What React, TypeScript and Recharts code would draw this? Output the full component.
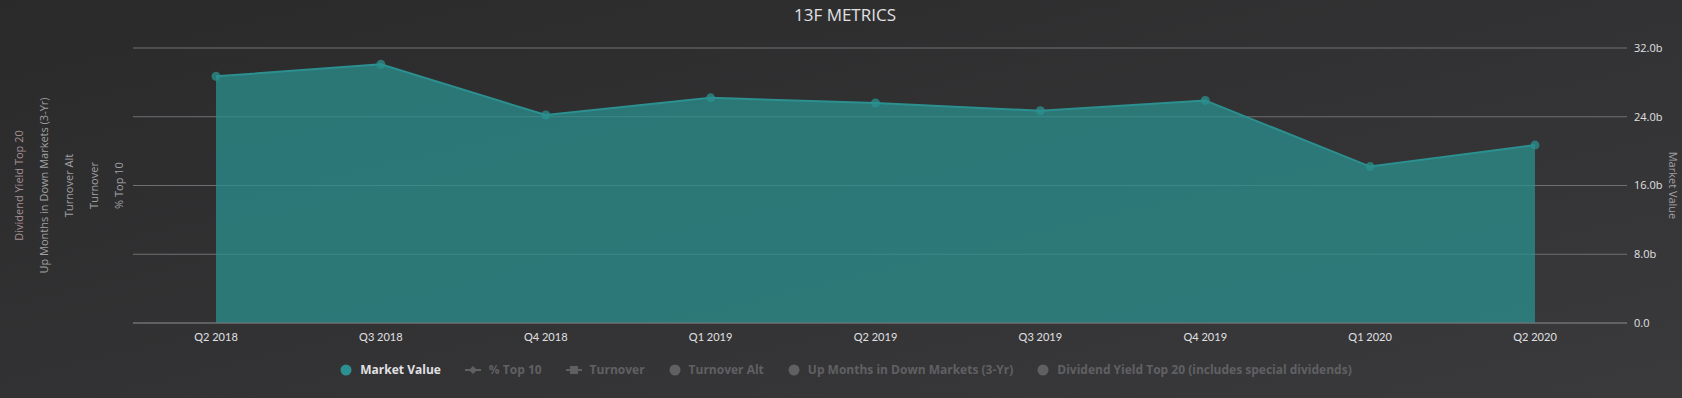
import React from "react";
import { Area, AreaChart, CartesianGrid, XAxis, YAxis } from "recharts";

const QUARTERS = ["Q2 2018", "Q3 2018", "Q4 2018", "Q1 2019", "Q2 2019", "Q3 2019", "Q4 2019", "Q1 2020", "Q2 2020"];
// market value, billions
const MARKET_VALUE = [28.7, 30.1, 24.2, 26.2, 25.6, 24.7, 25.9, 18.2, 20.7];
const MV_TICKS = [0, 8, 16, 24, 32];

// hidden series: only their axis titles + legend entries show
// ids prefixed so the axes stack in this order (first = nearest the plot)
const HIDDEN_AXES = [
  { id: "a_top10", title: "% Top 10" },
  { id: "b_turnover", title: "Turnover" },
  { id: "c_turnoverAlt", title: "Turnover Alt" },
  { id: "d_upMonths", title: "Up Months in Down Markets (3-Yr)" },
  { id: "e_divYield", title: "Dividend Yield Top 20" },
];

const LEGEND_ITEMS = [
  { name: "Market Value", symbol: "circle", active: true },
  { name: "% Top 10", symbol: "diamond", active: false },
  { name: "Turnover", symbol: "square", active: false },
  { name: "Turnover Alt", symbol: "circle", active: false },
  { name: "Up Months in Down Markets (3-Yr)", symbol: "circle", active: false },
  { name: "Dividend Yield Top 20 (includes special dividends)", symbol: "circle", active: false },
];

const TEAL = "#2b908f";
const GRID = "#707073";
const FONT = "'Open Sans', 'Noto Sans', sans-serif";

const data = QUARTERS.map((q, i) => ({ q, mv: MARKET_VALUE[i] }));

function AxisTitle(props: any) {
  const { viewBox, text, dx, angle, color } = props;
  const cx = viewBox.x + dx;
  const cy = viewBox.y + viewBox.height / 2;
  return (
    <text
      x={cx}
      y={cy}
      transform={`rotate(${angle} ${cx} ${cy})`}
      textAnchor="middle"
      dominantBaseline="central"
      fill={color}
      fontSize={11}
      fontFamily={FONT}
    >
      {text}
    </text>
  );
}

function LegendSymbol({ kind, color }: { kind: string; color: string }) {
  if (kind === "circle") {
    return (
      <svg width={12} height={12}>
        <circle cx={6} cy={6} r={5.5} fill={color} />
      </svg>
    );
  }
  return (
    <svg width={16} height={12}>
      <line x1={0} y1={6} x2={16} y2={6} stroke={color} strokeWidth={2} />
      {kind === "diamond" ? (
        <path d="M8 2 L12 6 L8 10 L4 6 Z" fill={color} />
      ) : (
        <rect x={4} y={2} width={8} height={8} fill={color} />
      )}
    </svg>
  );
}

function LegendRow() {
  return (
    <div
      style={{
        position: "absolute",
        left: 0,
        top: 361,
        width: 1692,
        display: "flex",
        justifyContent: "center",
        alignItems: "center",
        gap: 24,
        fontFamily: FONT,
        fontSize: 12,
        fontWeight: 700,
      }}
    >
      {LEGEND_ITEMS.map((it) => {
        const c = it.active ? "#E0E0E3" : "#606063";
        return (
          <div key={it.name} style={{ display: "flex", alignItems: "center", gap: 8 }}>
            <LegendSymbol kind={it.symbol} color={it.active ? TEAL : "#606063"} />
            <span style={{ color: c }}>{it.name}</span>
          </div>
        );
      })}
    </div>
  );
}

export default function App() {
  return (
    <div
      style={{
        position: "absolute",
        left: 0,
        top: 0,
        width: 1682,
        height: 398,
        overflow: "hidden",
        background: "linear-gradient(to bottom right, #2a2a2b, #3a3a3c)",
      }}
    >
      <div
        style={{
          position: "absolute",
          top: 3,
          left: 0,
          width: 1690,
          textAlign: "center",
          color: "#E0E0E3",
          fontFamily: FONT,
          fontSize: 17,
        }}
      >
        13F METRICS
      </div>
      <AreaChart width={1682} height={398} data={data} margin={{ top: 48, right: 0, left: 8, bottom: 45 }}>
        <CartesianGrid yAxisId="mv" vertical={false} stroke={GRID} strokeWidth={1} />
        <XAxis
          dataKey="q"
          height={30}
          interval={0}
          padding={{ left: 83, right: 92 }}
          tickLine={false}
          tickSize={0}
          tickMargin={10}
          axisLine={{ stroke: GRID }}
          tick={{ fill: "#E0E0E3", fontSize: 11, fontFamily: "Lato, sans-serif" }}
        />
        {HIDDEN_AXES.map((a) => (
          <YAxis
            key={a.id}
            yAxisId={a.id}
            orientation="left"
            width={25}
            domain={[0, 100]}
            tick={false}
            tickLine={false}
            axisLine={false}
            label={(p: any) => (
              <AxisTitle
                viewBox={p.viewBox}
                text={a.title}
                dx={10.5}
                angle={-90}
                color={a.id === "e_divYield" ? "#a38f93" : "#A0A0A3"}
              />
            )}
          />
        ))}
        <YAxis
          yAxisId="mv"
          orientation="right"
          width={55}
          domain={[0, 32]}
          ticks={MV_TICKS}
          interval={0}
          tickFormatter={(v: number) => (v === 0 ? "0.0" : `${v.toFixed(1)}b`)}
          tickLine={false}
          tickSize={0}
          tickMargin={7}
          axisLine={false}
          tick={{ fill: "#E0E0E3", fontSize: 11, fontFamily: FONT }}
          label={(p: any) => (
            <AxisTitle viewBox={p.viewBox} text="Market Value" dx={46} angle={90} color="#A0A0A3" />
          )}
        />
        <Area
          yAxisId="mv"
          type="linear"
          dataKey="mv"
          stroke={TEAL}
          strokeWidth={2}
          fill={TEAL}
          fillOpacity={0.75}
          dot={{ r: 4.5, fill: TEAL, stroke: "none", strokeWidth: 0 }}
          activeDot={false}
          isAnimationActive={false}
        />
      </AreaChart>
      <LegendRow />
    </div>
  );
}
